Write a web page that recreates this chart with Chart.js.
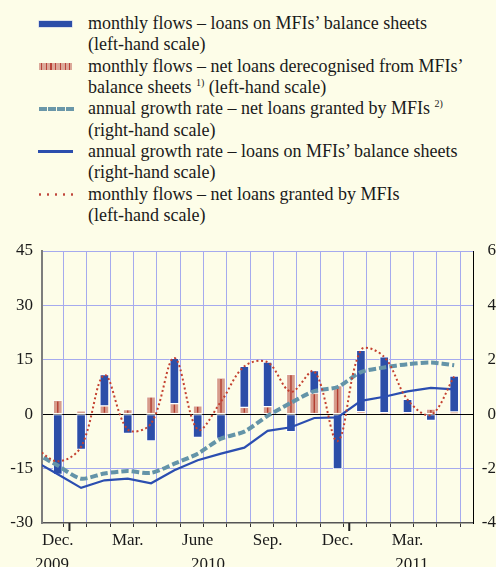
<!DOCTYPE html>
<html lang="en">
<head>
  <meta charset="UTF-8">
  <title>Loans to the private sector</title>
  <style>
    html, body { margin: 0; padding: 0; }
    body { width: 496px; height: 567px; overflow: hidden; background: #fdfde8; font-family: "Liberation Serif", "Times New Roman", serif; color: #1a1a1a; position: relative; }
    #legend { position: absolute; top: 13.2px; left: 0; font-size: 18px; line-height: 21.3px; }
    .item { position: relative; padding-left: 88px; white-space: nowrap; }
    .sym { position: absolute; left: 38px; }
    .sym.bar { left: 39px; top: 7.5px; width: 33px; height: 6.5px; background: #2c4ea8; box-shadow: 0 0 0 0.6px #c8cde6; }
    .sym.pink { left: 39px; top: 7.7px; width: 33px; height: 6.7px; background: repeating-linear-gradient(90deg, #dca99a 0 2px, #b9443a 2px 3.2px, #dca99a 3.2px 4.7px); }
    .sym.dash { left: 39px; top: 8.3px; width: 35px; height: 4.6px; background: repeating-linear-gradient(90deg, #6a97a9 0 7.7px, transparent 7.7px 9px); }
    .sym.solid { left: 38px; top: 9.4px; width: 35px; height: 3px; background: #2b4ead; }
    .sym.dot { left: 35.5px; top: 9.8px; width: 40px; height: 3px; background: radial-gradient(circle, #c0453a 1px, transparent 1.4px); background-size: 8px 3px; }
    sup { font-size: 10px; vertical-align: 7px; line-height: 0; }
    #chart { position: absolute; left: 0; top: 235px; }
  </style>
  <script src="https://cdn.jsdelivr.net/npm/chart.js"></script>
</head>
<body>
  <div id="legend">
    <div class="item"><span class="sym bar"></span>monthly flows – loans on MFIs’ balance sheets<br>(left-hand scale)</div>
    <div class="item"><span class="sym pink"></span>monthly flows – net loans derecognised from MFIs’<br>balance sheets <sup>1)</sup> (left-hand scale)</div>
    <div class="item"><span class="sym dash"></span>annual growth rate – net loans granted by MFIs <sup>2)</sup><br>(right-hand scale)</div>
    <div class="item"><span class="sym solid"></span>annual growth rate – loans on MFIs’ balance sheets<br>(right-hand scale)</div>
    <div class="item"><span class="sym dot"></span>monthly flows – net loans granted by MFIs<br>(left-hand scale)</div>
  </div>

  <canvas id="chart" width="496" height="332"></canvas>

  <script>
    // months shown as bars
    const months = ['Dec 2009', 'Jan 2010', 'Feb 2010', 'Mar 2010', 'Apr 2010', 'May 2010', 'Jun 2010',
      'Jul 2010', 'Aug 2010', 'Sep 2010', 'Oct 2010', 'Nov 2010', 'Dec 2010', 'Jan 2011', 'Feb 2011',
      'Mar 2011', 'Apr 2011', 'May 2011'];
    const monthTicks = ['Dec.', '', '', 'Mar.', '', '', 'June', '', '', 'Sep.', '', '', 'Dec.', '', '', 'Mar.', '', ''];
    const leftTicks = [-30, -15, 0, 15, 30, 45];
    const rightTicks = [-4, -2, 0, 2, 4, 6];

    // monthly flows, EUR billions (left-hand scale)
    const flowsOnBalance = [-16.6, -9.7, 8.6, -5.3, -7.4, 12.5, -6.4, -6.7, 11.3, 12.3, -4.8, 6.2, -15.1, 16.9, 15.4, 3.7, -1.7, 9.9];
    const flowsDerecognised = [3.8, 0.9, 2.3, 1.3, 4.8, 2.9, 2.3, 10.0, 1.9, 2.1, 11.0, 5.8, 7.9, 0.7, 0.4, 0.4, 1.4, 0.6];

    // the lines start one month earlier (Nov 2009) and are cut at the left edge
    const lineMonths = ['Nov 2009'].concat(months);
    const flowsNetGranted = [-9.0, -13.0, -9.0, 10.8, -4.2, -2.6, 15.5, -4.2, 3.5, 13.2, 14.3, 6.2, 11.8, -7.4, 17.7, 15.8, 4.0, -0.2, 10.4];
    // annual growth rates, % (right-hand scale)
    const growthNetGranted = [-1.41, -1.89, -2.37, -2.18, -2.09, -2.16, -1.82, -1.45, -0.90, -0.64, -0.06, 0.42, 0.85, 1.00, 1.55, 1.72, 1.84, 1.90, 1.80];
    const growthOnBalance = [-1.72, -2.21, -2.71, -2.43, -2.37, -2.54, -2.06, -1.69, -1.45, -1.23, -0.61, -0.48, -0.14, -0.12, 0.49, 0.64, 0.84, 0.97, 0.91];

    const lavender = '#a5aaee';
    const font = { family: '"Liberation Serif", "Times New Roman", serif', size: 17 };

    // year labels sit in the middle of the months of that year
    const years = [];
    months.forEach((m, i) => {
      const y = m.split(' ')[1];
      let entry = years.find(e => e.year === y);
      if (!entry) { entry = { year: y, idx: [] }; years.push(entry); }
      entry.idx.push(i);
    });
    const yearCentres = years.map(e => (e.idx[0] + e.idx[e.idx.length - 1]) / 2);

    const barPoints = arr => arr.map((v, i) => ({ x: i, y: v }));
    const linePoints = arr => arr.map((v, i) => ({ x: i - 1, y: v }));

    const stripes = {
      id: 'stripes',
      afterDatasetDraw(chart, args) {
        if (args.meta.label !== 'derecognised') return;
        const ctx = chart.ctx, area = chart.chartArea;
        ctx.save();
        ctx.beginPath();
        ctx.rect(area.left, area.top, area.right - area.left, area.bottom - area.top);
        ctx.clip();
        ctx.strokeStyle = '#b23d30';
        ctx.lineWidth = 1.4;
        args.meta.data.forEach(bar => {
          const top = Math.min(bar.y, bar.base) + 1, bottom = Math.max(bar.y, bar.base) - 1;
          if (bottom - top < 1) return;
          ctx.beginPath();
          ctx.moveTo(bar.x, top);
          ctx.lineTo(bar.x, bottom);
          ctx.stroke();
        });
        ctx.restore();
      }
    };

    const yearTicksMarks = {
      id: 'yearMarks',
      afterDraw(chart) {
        const xs = chart.scales.x, ctx = chart.ctx, bottom = chart.chartArea.bottom;
        ctx.save();
        ctx.strokeStyle = '#222';
        ctx.lineWidth = 2;
        for (let i = 1; i < months.length; i++) {
          if (months[i].split(' ')[1] !== months[i - 1].split(' ')[1]) {
            const px = xs.getPixelForValue(i - 0.5);
            ctx.beginPath();
            ctx.moveTo(px, bottom);
            ctx.lineTo(px, bottom + 8);
            ctx.stroke();
          }
        }
        ctx.restore();
      }
    };

    // keep the tick labels from pushing the plot area down
    const noPad = (s, w) => { s.width = w; s.paddingTop = 0; s.paddingBottom = 0; };

    new Chart(document.getElementById('chart'), {
      data: {
        datasets: [
          {
            type: 'line', label: 'netGranted', data: linePoints(flowsNetGranted), yAxisID: 'y', stack: 'net',
            borderColor: '#c4402f', borderWidth: 2, borderDash: [2, 2.6], tension: 0.35, pointRadius: 0, order: 1
          },
          {
            type: 'line', label: 'growthOnBalance', data: linePoints(growthOnBalance), yAxisID: 'y2',
            borderColor: '#2b4eb0', borderWidth: 2.2, tension: 0, pointRadius: 0, order: 2
          },
          {
            type: 'line', label: 'growthNetGranted', data: linePoints(growthNetGranted), yAxisID: 'y2',
            borderColor: '#6494a8', borderWidth: 4, borderDash: [7.5, 3], tension: 0.25, pointRadius: 0, order: 3
          },
          {
            type: 'bar', label: 'derecognised', data: barPoints(flowsDerecognised), yAxisID: 'y', stack: 'flows',
            backgroundColor: '#d79c8c', borderColor: 'rgba(255,255,255,0.55)', borderWidth: 1,
            borderSkipped: false, barThickness: 9, order: 5
          },
          {
            type: 'bar', label: 'onBalance', data: barPoints(flowsOnBalance), yAxisID: 'y', stack: 'flows',
            backgroundColor: '#2c4ea8', borderColor: '#ffffff', borderWidth: 1,
            borderSkipped: false, barThickness: 9, order: 6
          }
        ]
      },
      options: {
        responsive: false,
        animation: false,
        devicePixelRatio: 1,
        layout: { padding: { top: 16, left: 0, right: 0, bottom: 0 } },
        plugins: { legend: { display: false }, tooltip: { enabled: false } },
        scales: {
          x: {
            type: 'linear', position: 'bottom', min: -0.42, max: 17.55, weight: 0,
            afterBuildTicks: s => { s.ticks = months.flatMap((m, i) => [{ value: i }, { value: i + 0.5 }]); },
            afterFit: s => { s.height = 31; },
            grid: {
              color: c => (c.tick && c.tick.value % 1 !== 0) ? lavender : 'rgba(0,0,0,0)',
              tickColor: c => (c.tick && c.tick.value % 1 !== 0) ? '#333' : 'rgba(0,0,0,0)',
              tickLength: 4, lineWidth: 1
            },
            border: { color: '#555', width: 1.5 },
            ticks: {
              autoSkip: false, maxRotation: 0, padding: 3, color: '#1a1a1a', font: font,
              callback: v => Number.isInteger(v) ? monthTicks[v] : ''
            }
          },
          xYear: {
            type: 'linear', position: 'bottom', min: -0.42, max: 17.55, weight: 1,
            afterBuildTicks: s => { s.ticks = yearCentres.map(v => ({ value: v })); },
            afterFit: s => { s.height = 13; },
            grid: { display: false, drawTicks: false },
            border: { display: false },
            ticks: {
              autoSkip: false, maxRotation: 0, padding: 0, color: '#1a1a1a', font: font,
              callback: (v, i) => years[i] ? years[i].year : ''
            }
          },
          y: {
            position: 'left', stacked: true, min: leftTicks[0], max: leftTicks[leftTicks.length - 1],
            afterBuildTicks: s => { s.ticks = leftTicks.map(v => ({ value: v })); },
            afterFit: s => noPad(s, 42),
            grid: {
              color: c => c.tick.value === 0 ? '#000' : (c.tick.value === leftTicks[0] ? 'rgba(0,0,0,0)' : lavender),
              lineWidth: 1, drawTicks: false
            },
            border: { color: '#7d7d7d', width: 2 },
            ticks: { padding: 9, color: '#1a1a1a', font: font }
          },
          y2: {
            position: 'right', min: rightTicks[0], max: rightTicks[rightTicks.length - 1],
            afterBuildTicks: s => { s.ticks = rightTicks.map(v => ({ value: v })); },
            afterFit: s => noPad(s, 23),
            grid: { drawOnChartArea: false, drawTicks: false },
            border: { color: '#000', width: 1 },
            ticks: { padding: 6, color: '#1a1a1a', font: font, crossAlign: 'far' }
          }
        }
      },
      plugins: [stripes, yearTicksMarks]
    });
  </script>
</body>
</html>
